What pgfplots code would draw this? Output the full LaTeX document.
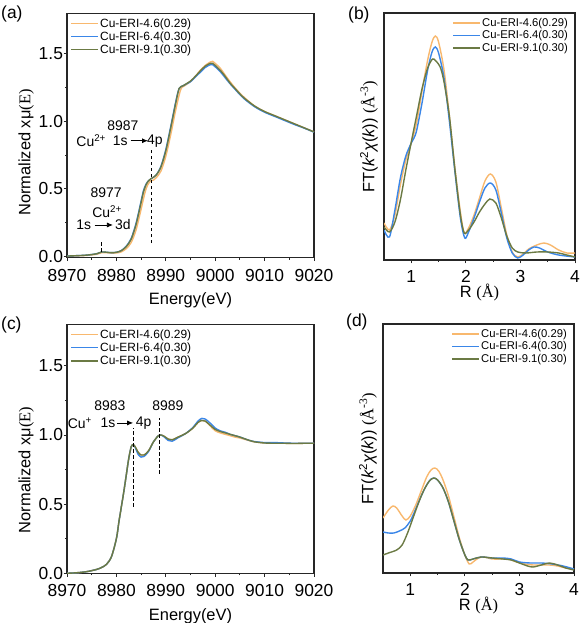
\documentclass[border=0pt]{standalone}
\usepackage{fontspec}
\setmainfont{Liberation Sans}
\newfontfamily\serif{Liberation Serif}
\usepackage{pgfplots}
\pgfplotsset{compat=1.18}
\usetikzlibrary{arrows.meta}
\definecolor{cor}{RGB}{248,184,110}
\definecolor{cbl}{RGB}{58,134,232}
\definecolor{cgr}{RGB}{107,122,68}
\tikzset{
 ann/.style={font=\fontsize{14}{14}\selectfont, inner sep=0pt},
 dsh/.style={line width=0.9bp, dash pattern=on 3.5bp off 2.5bp},
 arr/.style={line width=0.8bp, -{Latex[length=6bp,width=5bp]}},
}
\pgfplotsset{
 legend image code/.code={\draw[#1, line width=1.8bp] (0bp,0bp) -- (27bp,0bp);},
 base/.style={scale only axis, axis line style={line width=1.1bp, black!85},
  tick style={line width=0.9bp, black!85}, tick align=outside,
  major tick length=3.5bp, minor tick length=2bp, xtick pos=bottom, ytick pos=left,
  /pgf/number format/assume math mode=true,
  ticklabel style={font=\fontsize{17.5}{18}\selectfont},
  xticklabel style={yshift=-4.5bp},
  yticklabel style={xshift=3bp},
  label style={font=\fontsize{16.5}{17}\selectfont},
  legend cell align=left,
  legend style={draw=none, fill=none, inner sep=0pt, row sep=0.5bp, nodes={inner sep=1.2bp}},
  every axis plot/.append style={line width=1.4bp}},
 xan/.style={base, width=247bp, xmin=8970, xmax=9020, xtick={8970,8980,...,9020}, minor x tick num=1,
  ytick={0,0.5,1,1.5}, minor y tick num=1,
  xticklabel style={/pgf/number format/set thousands separator={}},
  yticklabel style={/pgf/number format/.cd, fixed, fixed zerofill, precision=1},
  xlabel={Energy(eV)}, ylabel={Normalized xμ{\serif(E)}},
  xlabel style={yshift=-4.5bp},
  legend style={font=\fontsize{12}{12}\selectfont}},
 ft/.style={base, width=191bp, xmin=0.5, xmax=4, xtick={1,2,3,4}, minor x tick num=1, ytick=\empty, ymin=0,
  xticklabel style={yshift=1.5bp},
  xlabel={R {\serif(Å)}}, ylabel={FT({\itshape k}\textsuperscript{2}{\itshape χ}({\itshape k})) {\serif(Å\textsuperscript{-3})}},
  xlabel style={yshift=5bp}, ylabel style={yshift=-1bp},
  legend style={font=\fontsize{11.3}{12}\selectfont}},
}
\begin{document}
\begin{tikzpicture}
\useasboundingbox (0,0) rectangle (584bp,623bp);
% (a)
\begin{axis}[xan, at={(67bp,365.3bp)}, anchor=south west, height=244.4bp, ymin=-0.007, ymax=1.794,
 ylabel style={at={(axis description cs:-0.165,0.43)}, anchor=center},
 legend style={at={(rel axis cs:0.012,0.985)}, anchor=north west}]
\addplot[cor, smooth] coordinates {(8970,0.003)(8972,0.006)(8974,0.010)(8976,0.018)(8977,0.030)(8978,0.030)(8979,0.027)(8980,0.028)(8981,0.036)(8982,0.060)(8983,0.105)(8984,0.20)(8985,0.35)(8985.5,0.43)(8986,0.50)(8986.5,0.54)(8987,0.56)(8987.5,0.565)(8988,0.58)(8989,0.63)(8990,0.74)(8991,0.90)(8992,1.08)(8993,1.23)(8993.8,1.26)(8995,1.29)(8996,1.33)(8997,1.375)(8998,1.41)(8999,1.435)(8999.5,1.44)(9000,1.425)(9001,1.39)(9002,1.34)(9003,1.29)(9004,1.245)(9005,1.205)(9006,1.17)(9008,1.11)(9010,1.07)(9012,1.04)(9014,1.01)(9016,0.98)(9018,0.95)(9020,0.92)};
\addplot[cbl, smooth] coordinates {(8970,0.005)(8972,0.008)(8974,0.012)(8976,0.022)(8977,0.035)(8978,0.033)(8979,0.030)(8980,0.033)(8981,0.046)(8982,0.078)(8983,0.135)(8984,0.25)(8985,0.41)(8985.5,0.49)(8986,0.535)(8986.5,0.56)(8987,0.575)(8988,0.60)(8989,0.665)(8990,0.79)(8991,0.96)(8992,1.14)(8992.7,1.24)(8993.5,1.26)(8995,1.29)(8996,1.325)(8997,1.36)(8998,1.395)(8999,1.415)(8999.5,1.415)(9000,1.40)(9001,1.365)(9002,1.32)(9003,1.275)(9004,1.235)(9005,1.195)(9006,1.16)(9008,1.105)(9010,1.065)(9012,1.035)(9014,1.005)(9016,0.975)(9018,0.948)(9020,0.918)};
\addplot[cgr, smooth] coordinates {(8970,0.005)(8972,0.008)(8974,0.012)(8976,0.022)(8977,0.035)(8978,0.033)(8979,0.030)(8980,0.033)(8981,0.045)(8982,0.075)(8983,0.13)(8984,0.24)(8985,0.40)(8985.5,0.48)(8986,0.53)(8986.5,0.56)(8987,0.575)(8988,0.60)(8989,0.66)(8990,0.78)(8991,0.95)(8992,1.13)(8992.7,1.24)(8993.5,1.26)(8995,1.295)(8996,1.33)(8997,1.37)(8998,1.405)(8999,1.425)(8999.5,1.425)(9000,1.41)(9001,1.375)(9002,1.33)(9003,1.28)(9004,1.24)(9005,1.20)(9006,1.165)(9008,1.11)(9010,1.07)(9012,1.04)(9014,1.01)(9016,0.98)(9018,0.95)(9020,0.92)};
\legend{Cu-ERI-4.6(0.29),Cu-ERI-6.4(0.30),Cu-ERI-9.1(0.30)}
\draw[dsh] (axis cs:8977,0.035) -- (axis cs:8977,0.12);
\draw[dsh] (axis cs:8987,0.10) -- (axis cs:8987,0.80);
\node[ann] at (axis cs:8977.9,0.47) {8977};
\node[ann] at (axis cs:8978.1,0.33) {Cu\textsuperscript{2+}};
\node[ann] at (axis cs:8973.4,0.234) {1s};
\draw[arr] (axis cs:8975.6,0.234) -- (axis cs:8979.3,0.234);
\node[ann] at (axis cs:8981.3,0.234) {3d};
\node[ann] at (axis cs:8981.3,0.965) {8987};
\node[ann] at (axis cs:8974.9,0.855) {Cu\textsuperscript{2+}};
\node[ann] at (axis cs:8980.8,0.855) {1s};
\draw[arr] (axis cs:8982.9,0.855) -- (axis cs:8986.4,0.855);
\node[ann] at (axis cs:8987.8,0.855) {4p};
\end{axis}
% (b)
\begin{axis}[ft, at={(384bp,363bp)}, anchor=south west, height=247bp, ymax=247,
 legend style={at={(rel axis cs:0.97,0.985)}, anchor=north east}]
\addplot[cor, smooth] coordinates {(0.5,37)(0.6,30)(0.7,45)(0.8,75)(0.9,100)(1.0,117)(1.1,138)(1.2,170)(1.3,200)(1.38,218)(1.44,224)(1.5,218)(1.6,190)(1.7,143)(1.8,92)(1.9,48)(1.97,27)(2.05,32)(2.15,45)(2.25,62)(2.35,79)(2.45,86)(2.55,78)(2.65,52)(2.75,25)(2.85,8)(2.95,3)(3.05,6)(3.15,11)(3.3,15)(3.43,17)(3.55,15)(3.7,10)(3.85,7)(4.0,7)};
\addplot[cbl, smooth] coordinates {(0.5,30)(0.6,23)(0.7,50)(0.8,82)(0.9,104)(1.0,117)(1.05,122)(1.1,130)(1.2,158)(1.3,190)(1.38,208)(1.44,213)(1.5,207)(1.6,182)(1.7,138)(1.8,88)(1.9,42)(1.98,22)(2.05,28)(2.15,42)(2.25,58)(2.35,72)(2.45,77)(2.55,70)(2.65,47)(2.75,22)(2.85,7)(2.95,2)(3.05,5)(3.15,10)(3.25,13)(3.35,12)(3.5,8)(3.7,5)(4.0,3)};
\addplot[cgr, smooth] coordinates {(0.5,33)(0.6,28)(0.7,38)(0.8,60)(0.9,90)(1.0,118)(1.1,145)(1.2,172)(1.3,192)(1.39,201)(1.45,199)(1.53,193)(1.6,178)(1.7,143)(1.8,90)(1.9,45)(1.97,27)(2.05,30)(2.15,38)(2.25,48)(2.35,56)(2.44,61)(2.55,57)(2.65,42)(2.75,24)(2.85,12)(2.95,8)(3.1,7)(3.3,8)(3.5,8)(3.7,7)(3.85,5)(4.0,3)};
\legend{Cu-ERI-4.6(0.29),Cu-ERI-6.4(0.30),Cu-ERI-9.1(0.30)}
\end{axis}
% (c)
\begin{axis}[xan, at={(67bp,49.7bp)}, anchor=south west, height=249bp, ymin=0, ymax=1.80,
 ylabel style={at={(axis description cs:-0.165,0.415)}, anchor=center},
 legend style={at={(rel axis cs:0.012,0.985)}, anchor=north west}]
\addplot[cor, smooth] coordinates {(8970,0.0)(8972,0.004)(8974,0.012)(8976,0.028)(8977,0.042)(8978,0.065)(8979,0.12)(8980,0.25)(8980.5,0.37)(8981,0.48)(8981.5,0.59)(8982,0.71)(8982.5,0.83)(8983,0.915)(8983.4,0.93)(8983.8,0.915)(8984.4,0.875)(8985,0.855)(8985.6,0.855)(8986.5,0.885)(8987.5,0.95)(8988.5,0.995)(8989,1.0)(8989.7,0.99)(8990.5,0.97)(8991.3,0.965)(8992.5,0.985)(8994,1.01)(8995.5,1.05)(8996.5,1.09)(8997.3,1.105)(8998,1.10)(8999,1.065)(9000,1.03)(9001,1.015)(9002,1.005)(9003,0.995)(9004,0.985)(9005,0.978)(9006,0.968)(9007,0.958)(9008,0.95)(9010,0.942)(9012,0.94)(9014,0.94)(9016,0.938)(9018,0.94)(9020,0.94)};
\addplot[cbl, smooth] coordinates {(8970,0.0)(8972,0.004)(8974,0.012)(8976,0.028)(8977,0.042)(8978,0.065)(8979,0.12)(8980,0.25)(8980.5,0.37)(8981,0.48)(8981.5,0.59)(8982,0.71)(8982.5,0.83)(8983,0.915)(8983.4,0.93)(8983.8,0.91)(8984.4,0.86)(8985,0.84)(8985.6,0.845)(8986.5,0.88)(8987.5,0.95)(8988.5,0.995)(8989,1.0)(8989.7,0.985)(8990.5,0.96)(8991.3,0.955)(8992.5,0.98)(8994,1.01)(8995.5,1.055)(8996.5,1.10)(8997.3,1.12)(8998,1.115)(8999,1.085)(9000,1.05)(9001,1.03)(9002,1.02)(9003,1.005)(9004,0.995)(9005,0.985)(9006,0.972)(9007,0.96)(9008,0.952)(9010,0.945)(9012,0.945)(9014,0.942)(9016,0.94)(9018,0.94)(9020,0.94)};
\addplot[cgr, smooth] coordinates {(8970,0.0)(8972,0.004)(8974,0.012)(8976,0.028)(8977,0.042)(8978,0.065)(8979,0.12)(8980,0.25)(8980.5,0.37)(8981,0.48)(8981.5,0.59)(8982,0.71)(8982.5,0.83)(8983,0.915)(8983.4,0.93)(8983.8,0.915)(8984.4,0.875)(8985,0.855)(8985.6,0.855)(8986.5,0.885)(8987.5,0.95)(8988.5,0.995)(8989,1.0)(8989.7,0.99)(8990.5,0.97)(8991.3,0.965)(8992.5,0.985)(8994,1.01)(8995.5,1.05)(8996.5,1.09)(8997.3,1.105)(8998,1.10)(8999,1.07)(9000,1.04)(9001,1.025)(9002,1.015)(9003,1.005)(9004,0.995)(9005,0.985)(9006,0.972)(9007,0.96)(9008,0.95)(9010,0.942)(9012,0.94)(9014,0.94)(9016,0.938)(9018,0.94)(9020,0.94)};
\legend{Cu-ERI-4.6(0.29),Cu-ERI-6.4(0.30),Cu-ERI-9.1(0.30)}
\draw[dsh] (axis cs:8983.4,0.48) -- (axis cs:8983.4,1.05);
\draw[dsh] (axis cs:8988.7,0.72) -- (axis cs:8988.7,1.12);
\node[ann] at (axis cs:8978.7,1.21) {8983};
\node[ann] at (axis cs:8990.4,1.21) {8989};
\node[ann] at (axis cs:8972.6,1.087) {Cu\textsuperscript{+}};
\node[ann] at (axis cs:8978.3,1.087) {1s};
\draw[arr] (axis cs:8980.1,1.087) -- (axis cs:8983.4,1.087);
\node[ann] at (axis cs:8985.5,1.087) {4p};
\end{axis}
% (d)
\begin{axis}[ft, at={(383bp,50bp)}, anchor=south west, height=249bp, ymax=249,
 legend style={at={(rel axis cs:0.97,0.985)}, anchor=north east}]
\addplot[cor, smooth] coordinates {(0.5,55)(0.6,63)(0.68,67)(0.75,65)(0.85,57)(0.92,53)(1.0,57)(1.1,68)(1.2,82)(1.3,96)(1.38,103)(1.45,105)(1.52,102)(1.6,93)(1.7,77)(1.8,56)(1.9,35)(2.0,18)(2.08,9)(2.15,11)(2.25,15)(2.35,16)(2.5,14)(2.65,14)(2.8,14)(2.95,11)(3.1,9)(3.25,8)(3.4,8)(3.55,8)(3.7,7)(3.85,5)(4.0,4)};
\addplot[cbl, smooth] coordinates {(0.5,41)(0.6,40)(0.7,40)(0.8,42)(0.9,45)(1.0,52)(1.1,64)(1.2,77)(1.3,88)(1.38,94)(1.43,95)(1.5,93)(1.6,85)(1.7,71)(1.8,52)(1.9,33)(2.0,18)(2.06,13)(2.15,14)(2.3,16)(2.5,15)(2.7,15)(2.85,14)(3.0,11)(3.2,10)(3.4,10)(3.6,9)(3.8,7)(4.0,4)};
\addplot[cgr, smooth] coordinates {(0.5,18)(0.6,20)(0.75,23)(0.85,28)(0.95,40)(1.05,55)(1.15,70)(1.25,83)(1.35,92)(1.43,95)(1.5,93)(1.6,85)(1.7,71)(1.8,52)(1.9,33)(2.0,18)(2.06,13)(2.15,14)(2.3,16)(2.5,15)(2.7,14)(2.85,13)(3.0,10)(3.15,7)(3.25,6)(3.4,8)(3.55,10)(3.7,8)(3.85,5)(4.0,3)};
\legend{Cu-ERI-4.6(0.29),Cu-ERI-6.4(0.30),Cu-ERI-9.1(0.30)}
\end{axis}
\node[font=\fontsize{17.5}{18}\selectfont, anchor=west, inner sep=0pt] at (1bp,609bp) {(a)};
\node[font=\fontsize{17.5}{18}\selectfont, anchor=west, inner sep=0pt] at (348bp,608bp) {(b)};
\node[font=\fontsize{17.5}{18}\selectfont, anchor=west, inner sep=0pt] at (1bp,298bp) {(c)};
\node[font=\fontsize{17.5}{18}\selectfont, anchor=west, inner sep=0pt] at (346bp,301bp) {(d)};
\end{tikzpicture}
\end{document}
